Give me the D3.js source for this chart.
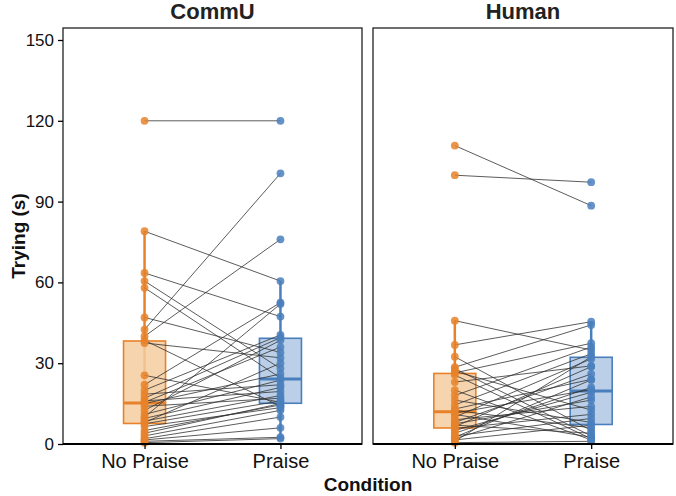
<script src="https://d3js.org/d3.v7.min.js"></script>
<style>
    body { background: #fff; margin: 0; font-family: "Liberation Sans", Arial, sans-serif; }
    svg { display: block; }
</style>

<svg width="676" height="496"></svg>

<script>
    const panels = ["CommU", "Human"];
    const conditions = ["No Praise", "Praise"];
    const yTicks = [0, 30, 60, 90, 120, 150];

    // paired values per participant: [No Praise, Praise]
    const commuNoPraise = [120, 79, 63.5, 60.5, 58, 47, 42.5, 40, 38.5, 37.5, 25.5, 22, 20, 18.5, 17, 16, 15.5,
        15, 14, 12.5, 11, 10, 9.5, 8.5, 8, 7.5, 6.5, 5, 4, 3, 2, 1.5, 1, 0.5];
    const commuPraise = [120, 60.5, 47.3, 28, 24.5, 34, 100.5, 76, 14, 32, 15.5, 52.5, 40.5, 22, 39.5, 19.5, 36,
        26, 17, 38.5, 23.7, 52, 21, 18, 30, 16, 13.5, 14.5, 15, 12.5, 10, 6, 2.5, 2];
    const humanNoPraise = [110.8, 99.8, 45.8, 36.8, 32.4, 28.5, 28, 27, 26.4, 25.6, 23, 20, 18, 16.3, 14.5, 13,
        12.5, 11.5, 11, 10, 9, 8, 7.5, 7, 6.4, 5.8, 5, 4, 3, 2.5, 2, 1.5, 1, 0.5];
    const humanPraise = [88.5, 97.2, 34.9, 45.4, 5, 44.2, 3, 12.6, 37.4, 2, 29, 1.5, 36, 8, 33.5, 24, 6, 20.2,
        2.5, 31.6, 14, 26, 16.3, 4, 28.7, 11, 19.2, 21, 9.5, 23.8, 17.5, 7, 32.4, 1];

    const panelData = {
        CommU: [commuNoPraise, commuPraise],
        Human: [humanNoPraise, humanPraise]
    };

    const colors = ["#E8822A", "#4A7FBD"];
    const fills = ["#F4CC9F", "#AFC8E4"];
    const font = "'Liberation Sans', Arial, sans-serif";

    const svg = d3.select("svg");
    const plotTop = 28, plotBottom = 444;
    const panelX = { CommU: [63, 362], Human: [373, 673] };

    const y = d3.scaleLinear().domain([0, 150]).range([plotBottom, 40]);

    panels.forEach((name, pi) => {
        const [x0, x1] = panelX[name];
        const x = d3.scalePoint().domain(conditions).range([x0, x1]).padding(0.6);
        const g = svg.append("g");
        const [a, b] = panelData[name];

        // boxplots
        [a, b].forEach((vals, ci) => {
            const s = vals.slice().sort(d3.ascending);
            const q1 = d3.quantile(s, 0.25), med = d3.quantile(s, 0.5), q3 = d3.quantile(s, 0.75);
            const iqr = q3 - q1;
            const lo = d3.min(s.filter(v => v >= q1 - 1.5 * iqr));
            const hi = d3.max(s.filter(v => v <= q3 + 1.5 * iqr));
            const cx = x(conditions[ci]), w = 42;
            g.append("line").attr("x1", cx).attr("x2", cx).attr("y1", y(hi)).attr("y2", y(lo))
                .attr("stroke", colors[ci]).attr("stroke-width", 2.5);
            g.append("rect").attr("x", cx - w / 2).attr("width", w)
                .attr("y", y(q3)).attr("height", y(q1) - y(q3))
                .attr("fill", fills[ci]).attr("fill-opacity", 0.85)
                .attr("stroke", colors[ci]).attr("stroke-width", 1.6);
            g.append("line").attr("x1", cx - w / 2).attr("x2", cx + w / 2)
                .attr("y1", y(med)).attr("y2", y(med))
                .attr("stroke", colors[ci]).attr("stroke-width", 3);
        });

        // paired lines
        g.append("g").selectAll("line")
            .data(d3.zip(a, b))
            .enter().append("line")
            .attr("x1", x(conditions[0])).attr("x2", x(conditions[1]))
            .attr("y1", d => y(d[0])).attr("y2", d => y(d[1]))
            .attr("stroke", "#333").attr("stroke-opacity", 0.8).attr("stroke-width", 1);

        // points
        [a, b].forEach((vals, ci) => {
            g.append("g").selectAll("circle")
                .data(vals)
                .enter().append("circle")
                .attr("cx", x(conditions[ci])).attr("cy", d => y(d)).attr("r", 3.9)
                .attr("fill", colors[ci]).attr("fill-opacity", 0.85);
        });

        // frame
        g.append("rect").attr("x", x0).attr("y", plotTop).attr("width", x1 - x0).attr("height", plotBottom - plotTop)
            .attr("fill", "none").attr("stroke", "#222").attr("stroke-width", 1.3);
        g.append("line").attr("x1", x0).attr("x2", x1).attr("y1", plotBottom).attr("y2", plotBottom)
            .attr("stroke", "#000").attr("stroke-width", 2);

        // x axis
        const xa = g.append("g").attr("transform", `translate(0,${plotBottom})`)
            .call(d3.axisBottom(x).tickSize(5).tickPadding(5));
        xa.select(".domain").remove();
        xa.selectAll("line").attr("stroke", "#000").attr("stroke-width", 1.3);
        xa.selectAll("text").attr("font-size", 20).attr("fill", "#111").attr("font-family", font);

        // title
        svg.append("text").attr("x", (x0 + x1) / 2).attr("y", 19)
            .attr("text-anchor", "middle").attr("font-size", 22).attr("font-weight", "bold")
            .attr("font-family", font).attr("fill", "#222").text(name);

        if (pi === 0) {
            const ya = g.append("g").attr("transform", `translate(${x0},0)`)
                .call(d3.axisLeft(y).tickValues(yTicks).tickSize(5).tickPadding(4));
            ya.select(".domain").remove();
            ya.selectAll("line").attr("stroke", "#000").attr("stroke-width", 1.3);
            ya.selectAll("text").attr("font-size", 17).attr("fill", "#111").attr("font-family", font);
        }
    });

    svg.append("text").attr("transform", `translate(25,${(plotTop + plotBottom) / 2}) rotate(-90)`)
        .attr("text-anchor", "middle").attr("font-size", 19).attr("font-weight", "bold")
        .attr("font-family", font).attr("fill", "#111").text("Trying (s)");

    svg.append("text").attr("x", 368).attr("y", 491)
        .attr("text-anchor", "middle").attr("font-size", 19).attr("font-weight", "bold")
        .attr("font-family", font).attr("fill", "#111").text("Condition");
</script>
